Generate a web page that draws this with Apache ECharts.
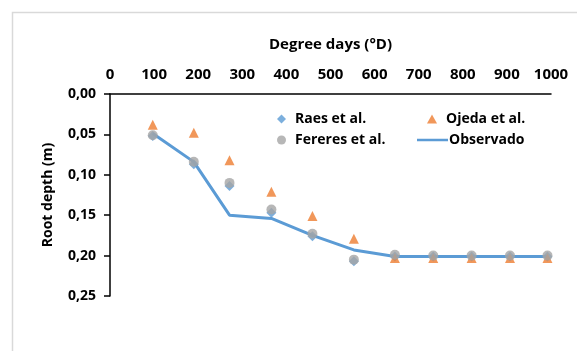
<!DOCTYPE html>
<html>
<head>
<meta charset="utf-8">
<script src="https://cdn.jsdelivr.net/npm/echarts@6/dist/echarts.min.js"></script>
<style>html,body{margin:0;padding:0;background:#fff}#c{width:577px;height:351px}</style>
</head>
<body>
<div id="c"></div>
<script>
var degreeDays = [97, 190, 271, 366, 459, 553, 646, 733, 820, 907, 992];
var raes     = [0.052, 0.087, 0.114, 0.147, 0.176, 0.207, 0.201, 0.201, 0.201, 0.201, 0.201];
var ojeda    = [0.038, 0.048, 0.082, 0.121, 0.151, 0.179, 0.203, 0.203, 0.203, 0.203, 0.203];
var fereres  = [0.051, 0.084, 0.110, 0.143, 0.173, 0.205, 0.199, 0.200, 0.200, 0.200, 0.200];
var observado= [0.049, 0.084, 0.150, 0.154, 0.175, 0.193, 0.201, 0.201, 0.201, 0.201, 0.201];
var seriesNames = ['Raes et al.', 'Ojeda et al.', 'Fereres et al.', 'Observado'];
var xTitle = 'Degree days (°D)';
var yTitle = 'Root depth (m)';

function pairs(arr){ return degreeDays.map(function(d,i){ return [d, arr[i]]; }); }

var FONT = '"Open Sans", sans-serif';
var chart = echarts.init(document.getElementById('c'), null, {renderer:'canvas'});
var legendText = {fontFamily: FONT, fontWeight: 'bold', fontSize: 14, color: '#000'};
chart.setOption({
  animation: false,
  backgroundColor: '#fff',
  graphic: [{
    type: 'rect', left: 10, top: 10, silent: true,
    shape: {x: 0, y: 0, width: 566, height: 400},
    style: {fill: 'none', stroke: '#d9d9d9', lineWidth: 1.5}
  }],
  grid: {left: 110, right: 26, top: 94, bottom: 55},
  legend: [
    {data: [{name: seriesNames[0], icon: 'diamond'}], left: 272, top: 107, itemWidth: 9, itemHeight: 9, itemGap: 0, textStyle: Object.assign({padding: [0,0,0,4]}, legendText)},
    {data: [{name: seriesNames[1], icon: 'triangle'}], left: 422, top: 107, itemWidth: 10, itemHeight: 9, itemGap: 0, textStyle: Object.assign({padding: [0,0,0,4]}, legendText)},
    {data: [{name: seriesNames[2], icon: 'circle'}], left: 272, top: 128, itemWidth: 9, itemHeight: 9, itemGap: 0, textStyle: Object.assign({padding: [0,0,0,4]}, legendText)},
    {data: [{name: seriesNames[3], icon: 'rect'}], left: 412, top: 128, itemWidth: 31, itemHeight: 2.5, itemGap: 0, textStyle: Object.assign({padding: [0,0,0,-4]}, legendText)}
  ],
  xAxis: {
    type: 'value', position: 'top', min: 0, max: 1000, interval: 100,
    name: xTitle, nameLocation: 'middle', nameGap: 42,
    nameTextStyle: {fontFamily: FONT, fontWeight: 'bold', fontSize: 15, color: '#000'},
    axisLine: {show: true, lineStyle: {color: '#000', width: 1.5}},
    axisTick: {show: false},
    splitLine: {show: false},
    axisLabel: {fontFamily: FONT, fontWeight: 'bold', fontSize: 15, color: '#000', margin: 12,
      formatter: function(v){ return String(v); }}
  },
  yAxis: {
    type: 'value', inverse: true, min: 0, max: 0.25, interval: 0.05,
    name: yTitle, nameLocation: 'middle', nameGap: 55, nameRotate: 90,
    nameTextStyle: {fontFamily: FONT, fontWeight: 'bold', fontSize: 14, color: '#000'},
    axisLine: {show: true, lineStyle: {color: '#000', width: 1.5}},
    axisTick: {show: true, inside: false, length: 6, lineStyle: {color: '#000', width: 1.5}},
    splitLine: {show: false},
    axisLabel: {fontFamily: FONT, fontWeight: 'bold', fontSize: 14, color: '#000', margin: 14,
      formatter: function(v){ return v.toFixed(2).replace('.', ','); }}
  },
  series: [
    {name: seriesNames[3], type: 'line', data: pairs(observado), symbol: 'none', z: 1,
      lineStyle: {color: '#5B9BD5', width: 3}, itemStyle: {color: '#5B9BD5'}},
    {name: seriesNames[0], type: 'scatter', data: pairs(raes), symbol: 'diamond', symbolSize: 10, z: 2,
      itemStyle: {color: '#5B9BD5'}},
    {name: seriesNames[1], type: 'scatter', data: pairs(ojeda), symbol: 'triangle', symbolSize: 10, z: 3,
      itemStyle: {color: '#ED7D31'}},
    {name: seriesNames[2], type: 'scatter', data: pairs(fereres), symbol: 'circle', symbolSize: 10, z: 4,
      itemStyle: {color: '#A5A5A5'}}
  ]
});
</script>
</body>
</html>
